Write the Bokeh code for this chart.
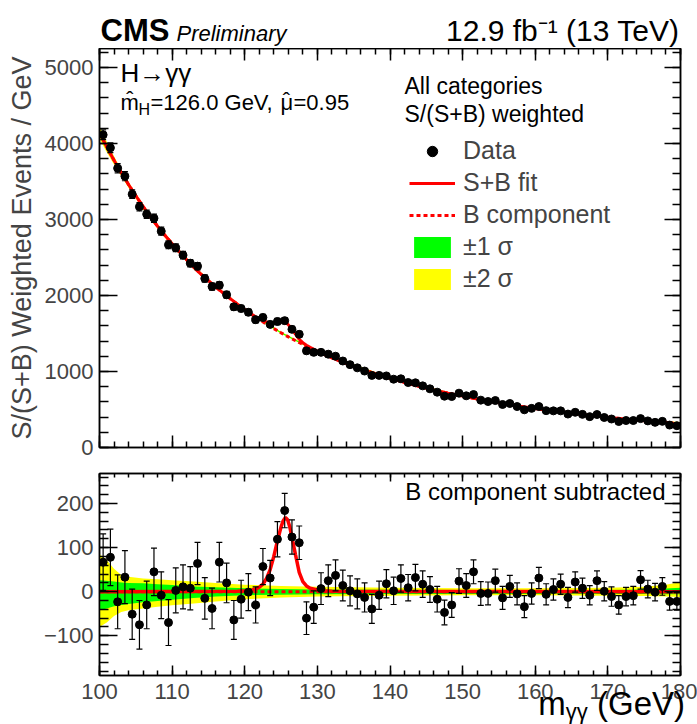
import numpy as np
from bokeh.plotting import figure
from bokeh.models import (ColumnDataSource, Whisker, TeeHead, Label, Legend, LegendItem,
                          LinearAxis, SingleIntervalTicker, Range1d, Div)
from bokeh.layouts import column
from bokeh.embed import file_html
from bokeh.resources import INLINE

FONT = "Liberation Sans"

# ---------------- data ----------------
mass = np.arange(100.5, 180.0, 1.0)          # 80 bin centres, 1 GeV bins

weighted_events = [4114, 3943, 3675, 3570, 3333, 3167, 3070, 3017, 2846, 2667,
                   2628, 2531, 2425, 2386, 2224, 2118, 2136, 2009, 1851, 1829,
                   1779, 1682, 1711, 1620, 1658, 1669, 1555, 1489, 1272, 1252,
                   1252, 1228, 1201, 1138, 1090, 1048, 1006, 949, 949, 942,
                   899, 904, 855, 851, 811, 772, 728, 675, 671, 715,
                   680, 697, 623, 605, 618, 566, 579, 539, 496, 515,
                   539, 485, 482, 482, 440, 463, 436, 406, 434, 395,
                   375, 342, 355, 355, 380, 350, 331, 344, 295, 287]

bkg_subtracted = [67, 78, -23, 33, -51, -75, -30, 45, -8, -70,
                  3, 11, 8, 64, -15, -38, 67, 20, -64, -17,
                  -1, -30, 57, 31, 119, 184, 124, 111, -60, -35,
                  7, 25, 37, 14, 2, -5, -13, -39, -8, 18,
                  2, 30, 9, 32, 17, 5, -17, -47, -30, 24,
                  14, 45, -4, -4, 25, -14, 12, -5, -34, -4,
                  31, -6, 5, 17, -13, 22, 8, -8, 25, 1,
                  -11, -30, -11, -9, 27, 6, -1, 12, -22, -22]

event_errors = [64, 64, 61, 60, 57, 55, 54, 54, 53, 52,
                51, 50, 49, 48, 47, 46, 45, 45, 44, 43,
                42, 41, 41, 40, 40, 39, 39, 38, 37, 37,
                36, 36, 35, 35, 34, 34, 33, 33, 32, 32,
                31, 31, 30, 30, 30, 29, 29, 28, 28, 28,
                27, 27, 27, 26, 26, 26, 25, 25, 25, 24,
                24, 24, 24, 23, 23, 23, 23, 22, 22, 22,
                22, 21, 21, 21, 21, 20, 20, 20, 20, 20]

# background component of the fit, at integer masses 100..180
fit_mass = np.arange(100, 181, 1)
bkg_fit = [4140, 3955, 3780, 3616, 3460, 3312, 3171, 3037, 2911, 2793,
           2680, 2572, 2469, 2370, 2278, 2195, 2113, 2034, 1958, 1885,
           1814, 1747, 1683, 1622, 1564, 1509, 1456, 1405, 1356, 1309,
           1264, 1221, 1180, 1141, 1104, 1068, 1034, 1001, 970, 940,
           911, 883, 856, 830, 805, 781, 758, 736, 715, 695,
           675, 656, 638, 620, 603, 587, 571, 556, 541, 527,
           513, 500, 487, 475, 463, 451, 440, 429, 418, 408,
           398, 388, 379, 370, 361, 352, 344, 336, 328, 320, 313]

# signal component of the fit (S+B minus B)
sig_mass = [100, 119, 120, 121, 121.5, 122, 122.5, 123, 123.5, 124, 124.5, 125,
            125.3, 125.6, 125.9, 126.2, 126.5, 127, 127.5, 128, 128.5, 129,
            130, 131, 132, 180]
sig_fit = [0, 1, 2, 4, 6, 10, 17, 30, 50, 80, 115, 147,
           161, 168, 163, 147, 123, 83, 44, 23, 13, 8,
           4, 2, 1, 0]

# uncertainty bands of the background component (offsets from B)
band_mass = [100, 101, 102, 103, 104, 106, 108, 110, 113, 116, 120, 125,
             130, 140, 150, 160, 170, 175, 178, 180]
band2_hi = [85, 72, 52, 38, 34, 30, 28, 26, 23, 20, 16, 13, 11, 9, 8, 8, 9, 11, 16, 22]
band2_lo = [-80, -70, -55, -46, -42, -38, -34, -31, -27, -22, -17, -13, -11, -9, -8, -8, -9, -10, -11, -12]
band1_hi = [26, 25, 23, 21, 20, 19, 17, 15, 12, 10, 8, 6, 5, 4.5, 4, 4, 4, 5, 7, 9]
band1_lo = [-42, -38, -33, -30, -28, -24, -21, -18, -14, -11, -8, -7, -6, -5, -5, -5, -5, -5, -6, -6]

RED = "#ff0000"
GREEN = "#00ff00"
YELLOW = "#ffff00"

# ---------------- layout constants (pixels) ----------------
W = 697
FL, FR = 99, 17            # frame left / right borders
HEAD_H = 48                # header strip height

# ---------------- derived quantities ----------------
bkg_arr = np.array(bkg_fit, dtype=float)
bkg_at_band = np.interp(band_mass, fit_mass, bkg_arr)
sb_mass = np.array(sorted(set(fit_mass.tolist()) | set(sig_mass)), dtype=float)
sb_top = np.interp(sb_mass, fit_mass, bkg_arr) + np.interp(sb_mass, sig_mass, sig_fit)

ev = np.array(weighted_events, dtype=float)
rs = np.array(bkg_subtracted, dtype=float)
er = np.array(event_errors, dtype=float)
src_top = ColumnDataSource(dict(x=mass, y=ev, up=ev + er, lo=ev - er))
src_bot = ColumnDataSource(dict(x=mass, y=rs, up=rs + er, lo=rs - er))


def make_axis(interval, tick_in, labels=True, size="22px", standoff=6):
    ax = LinearAxis(ticker=SingleIntervalTicker(interval=interval, num_minor_ticks=5))
    ax.axis_line_width = 1.5
    ax.major_tick_line_width = 1.5
    ax.minor_tick_line_width = 1.5
    ax.major_tick_out = 0
    ax.minor_tick_out = 0
    ax.major_tick_in = tick_in
    ax.minor_tick_in = tick_in // 2
    ax.major_label_text_font = FONT
    if labels:
        ax.major_label_text_font_size = size
        ax.major_label_standoff = standoff
    else:
        ax.major_label_text_color = None
        ax.major_label_text_font_size = "0px"
        ax.major_label_standoff = 0
    return ax


def new_fig(height, xr, yr, top, bottom, outline=True):
    p = figure(width=W, height=height, x_range=xr, y_range=yr,
               x_axis_location=None, y_axis_location=None,
               output_backend="svg", toolbar_location=None,
               min_border_left=FL, min_border_right=FR, min_border_top=top,
               min_border_bottom=bottom)
    p.grid.visible = False
    p.outline_line_color = "black" if outline else None
    p.outline_line_width = 1.5
    return p


def lab(p, x, y_base, text, size, style="normal", align="left", units="screen"):
    # y_base is the text baseline; text is centred vertically about (baseline + 0.35 em)
    px = float(size.replace("px", ""))
    y = y_base + 0.35 * px if units == "screen" else y_base - 0.35 * px
    p.add_layout(Label(x=x, y=y, x_units=units, y_units=units, text=text,
                       text_font=FONT, text_font_size=size, text_font_style=style,
                       text_align=align, text_baseline="middle", text_color="black"))


# ---------------- header (CMS label, luminosity) ----------------
# data units of this strip are page pixels
head = new_fig(HEAD_H, Range1d(FL, W - FR), Range1d(HEAD_H, 0), 0, 0, outline=False)
lab(head, 100, 41, "CMS", "31px", "bold", units="data")
lab(head, 176, 41, "Preliminary", "22px", "italic", units="data")
lab(head, 679, 40, "12.9 fb\u207b\u00b9 (13 TeV)", "30px", align="right", units="data")

# ---------------- top panel ----------------
p1 = new_fig(411, Range1d(100, 180), Range1d(0, 5250), 0, 12)
r_y = p1.varea(x=band_mass, y1=bkg_at_band + np.array(band2_lo),
               y2=bkg_at_band + np.array(band2_hi), fill_color=YELLOW)
r_g = p1.varea(x=band_mass, y1=bkg_at_band + np.array(band1_lo),
               y2=bkg_at_band + np.array(band1_hi), fill_color=GREEN)
r_b = p1.line(fit_mass, bkg_arr, line_color=RED, line_width=3, line_dash="4 3")
r_sb = p1.line(sb_mass, sb_top, line_color=RED, line_width=3)
p1.add_layout(Whisker(source=src_top, base="x", upper="up", lower="lo", line_color="black",
                      line_width=1.2, level="annotation",
                      upper_head=TeeHead(size=6, line_color="black", line_width=1.2),
                      lower_head=TeeHead(size=6, line_color="black", line_width=1.2)))
r_data = p1.scatter("x", "y", source=src_top, size=8, color="black")

yl = make_axis(1000, 18)
yl.axis_label = "S/(S+B) Weighted Events / GeV"
yl.axis_label_text_font = FONT
yl.axis_label_text_font_size = "27px"
yl.axis_label_text_font_style = "normal"
yl.axis_label_standoff = 5
p1.add_layout(yl, "left")
p1.add_layout(make_axis(1000, 16, labels=False), "right")
p1.add_layout(make_axis(10, 12, labels=False), "below")
p1.add_layout(make_axis(10, 12, labels=False), "above")

legend = Legend(items=[LegendItem(label="Data", renderers=[r_data]),
                       LegendItem(label="S+B fit", renderers=[r_sb]),
                       LegendItem(label="B component", renderers=[r_b]),
                       LegendItem(label="\u00b11 \u03c3", renderers=[r_g]),
                       LegendItem(label="\u00b12 \u03c3", renderers=[r_y])],
                location=(310, 154), label_text_font=FONT, label_text_font_size="25px",
                glyph_width=46, glyph_height=26, label_height=26, spacing=3, padding=0,
                margin=0, label_standoff=8, background_fill_alpha=0, border_line_alpha=0)
p1.add_layout(legend)

# frame of p1: left at page x 99, bottom at page y 447
lab(p1, 21, 447 - 82, "H\u2192\u03b3\u03b3", "26px")
lab(p1, 21, 447 - 110, "m\u0302", "22px")
lab(p1, 39, 447 - 115, "H", "16px")
lab(p1, 51, 447 - 110, "=126.0 GeV, ", "22px")
lab(p1, 181, 447 - 110, "\u03bc", "22px")
lab(p1, 187, 447 - 108, "\u02c6", "22px", align="center")
lab(p1, 194, 447 - 110, "=0.95", "22px")
lab(p1, 305, 447 - 94, "All categories", "23px")
lab(p1, 305, 447 - 122, "S/(S+B) weighted", "23px")

# ---------------- bottom panel ----------------
p2 = new_fig(250, Range1d(100, 180), Range1d(-190, 268), 14, 34)
p2.varea(x=band_mass, y1=band2_lo, y2=band2_hi, fill_color=YELLOW)
p2.varea(x=band_mass, y1=band1_lo, y2=band1_hi, fill_color=GREEN)
p2.line(fit_mass, bkg_arr - bkg_arr, line_color=RED, line_width=3, line_dash="4 3")
p2.line(sig_mass, sig_fit, line_color=RED, line_width=3.5)
p2.add_layout(Whisker(source=src_bot, base="x", upper="up", lower="lo", line_color="black",
                      line_width=1.2, level="annotation",
                      upper_head=TeeHead(size=6, line_color="black", line_width=1.2),
                      lower_head=TeeHead(size=6, line_color="black", line_width=1.2)))
p2.scatter("x", "y", source=src_bot, size=8, color="black")

yl2 = make_axis(100, 18)
yl2.major_label_overrides = {-100: "\u2212100"}
p2.add_layout(yl2, "left")
p2.add_layout(make_axis(100, 16, labels=False), "right")
p2.add_layout(make_axis(10, 10, standoff=8), "below")
p2.add_layout(make_axis(10, 8, labels=False), "above")

# frame of p2: left at page x 99, bottom at page y 675
lab(p2, 566, 675 - 499, "B component subtracted", "24px", align="right")

# ---------------- x-axis title (m_gammagamma) ----------------
xtitle = Div(
    text=("<div style=\"width:%dpx; font-family:'Liberation Sans'; font-size:33px; "
          "line-height:32px; text-align:right; white-space:nowrap; color:black;\">m"
          "<span style=\"font-size:22px; position:relative; top:4px;\">\u03b3\u03b3</span>"
          " (GeV)</div>") % (W - FR),
    width=W - FR, height=36, styles={"margin-top": "-21px"})

layout = column(head, p1, p2, xtitle)
open("out.html", "w").write(file_html(layout, INLINE))
